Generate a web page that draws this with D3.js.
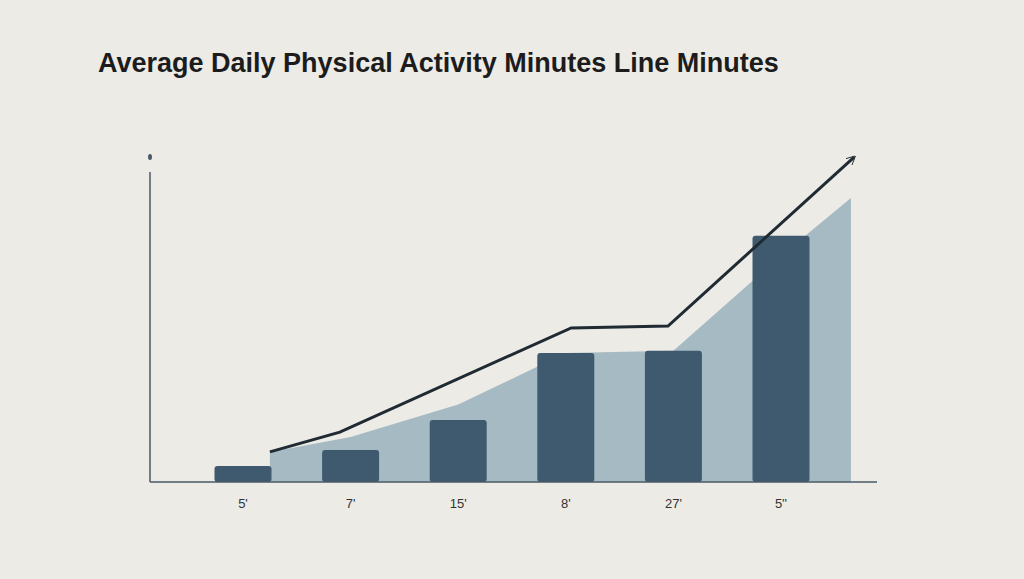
<!DOCTYPE html>
<html><head><meta charset="utf-8">
<style>body{margin:0;background:#ecebe6;} text{font-family:"Liberation Sans Narrow","Liberation Sans",sans-serif;}</style>
</head><body>
<svg id="chart" width="1024" height="579"></svg>
<script src="https://d3js.org/d3.v7.min.js"></script>
<script>
const categories = ["5'", "7'", "15'", "8'", "27'", "5''"];
const barValues = [5.2, 10.3, 20, 41.6, 42.3, 79.4];
const areaPos = [0.25, 1, 2, 3, 4, 5, 5.65];
const areaValues = [9.7, 14.5, 25, 41.6, 42.3, 73, 91.6];
const linePos = [0.25, 0.9, 3.05, 3.95, 5.68];
const lineValues = [9.7, 16.1, 49.7, 50.3, 104.8];

const svg = d3.select("#chart");
svg.append("rect").attr("width", 1024).attr("height", 579).attr("fill", "#ecebe6");

const x = d3.scaleLinear().domain([0, 5]).range([243, 781]);
const y = d3.scaleLinear().domain([0, 100]).range([482, 172]);
const bw = 57;

svg.append("text").attr("x", 98).attr("y", 72)
  .style("font-family", "'Liberation Sans',sans-serif").style("font-size", "27px").style("font-weight", "600")
  .attr("fill", "#1c1c1c").text("Average Daily Physical Activity Minutes Line Minutes");

// area
svg.append("path")
  .datum(areaPos.map((p, i) => [p, areaValues[i]]))
  .attr("fill", "#a6bac3")
  .attr("d", d3.area().x(d => x(d[0])).y0(y(0)).y1(d => y(d[1])));

// bars
svg.selectAll("rect.bar").data(barValues).join("rect").attr("class", "bar")
  .attr("x", (d, i) => x(i) - bw / 2).attr("width", bw)
  .attr("y", d => y(d)).attr("height", d => y(0) - y(d))
  .attr("rx", 3).attr("fill", "#3f5a6e");

// axes
svg.append("line").attr("x1", 150).attr("x2", 150).attr("y1", 172).attr("y2", 482).attr("stroke", "#4a5a66").attr("stroke-width", 1.5);
svg.append("line").attr("x1", 150).attr("x2", 877).attr("y1", 482).attr("y2", 482).attr("stroke", "#4a5a66").attr("stroke-width", 1.5);
svg.append("ellipse").attr("cx", 150).attr("cy", 157).attr("rx", 2).attr("ry", 3).attr("fill", "#4a5a66");

svg.selectAll("text.tick").data(categories).join("text").attr("class", "tick")
  .attr("x", (d, i) => x(i)).attr("y", 508).attr("text-anchor", "middle")
  .style("font-size", "13px").attr("fill", "#333").text(d => d);

// trend line with arrow
svg.append("defs").append("marker").attr("id", "arr")
  .attr("viewBox", "0 -5 10 10").attr("refX", 8).attr("refY", 0)
  .attr("markerWidth", 9).attr("markerHeight", 9).attr("markerUnits", "userSpaceOnUse")
  .attr("orient", "auto")
  .append("path").attr("d", "M0,-5L10,0L0,5").attr("fill", "none").attr("stroke", "#1f2a33").attr("stroke-width", 1);
svg.append("path")
  .datum(linePos.map((p, i) => [p, lineValues[i]]))
  .attr("fill", "none").attr("stroke", "#1f2a33").attr("stroke-width", 3)
  .attr("marker-end", "url(#arr)")
  .attr("d", d3.line().x(d => x(d[0])).y(d => y(d[1])));
</script>
</body></html>
